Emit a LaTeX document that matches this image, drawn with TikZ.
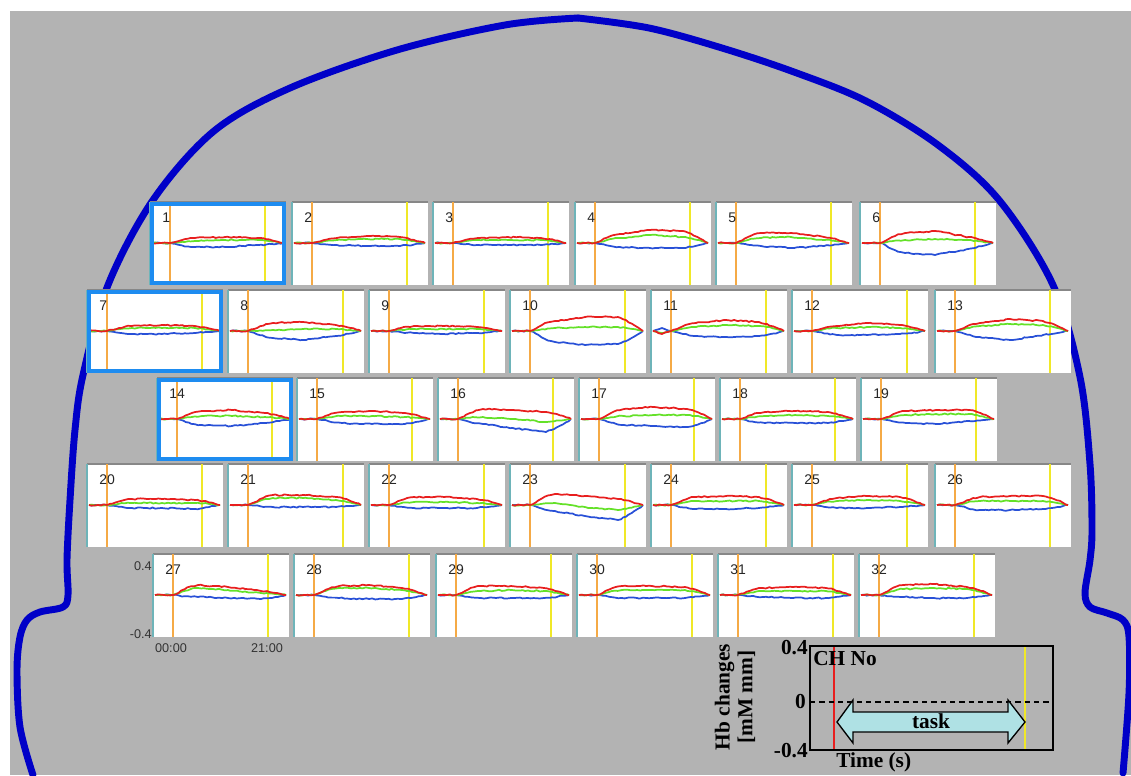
\documentclass[tikz,border=0pt]{standalone}
\usepackage{fontspec}
\setmainfont{Liberation Serif}
\setsansfont{Liberation Sans}
\usetikzlibrary{decorations.pathmorphing}

\definecolor{bggray}{RGB}{179,179,179}
\definecolor{headblue}{RGB}{0,0,200}
\definecolor{selblue}{RGB}{30,140,240}
\definecolor{hbred}{RGB}{232,30,30}
\definecolor{hbgreen}{RGB}{100,225,40}
\definecolor{hbblue}{RGB}{40,80,215}
\definecolor{onsetcol}{RGB}{245,170,70}
\definecolor{endcol}{RGB}{240,232,40}
\definecolor{edgegray}{RGB}{135,135,135}
\definecolor{edgeteal}{RGB}{110,180,185}
\definecolor{arrowcyan}{RGB}{175,225,228}

\tikzset{
  headline/.style={headblue, line width=5.2pt, line cap=round, line join=round},
  chbox/.style={fill=white, minimum width=102pt, minimum height=62.25pt, inner sep=0pt, outer sep=0pt},
  edgeline/.style={line width=1.8pt},
  selbox/.style={selblue, line width=3pt},
  onsetline/.style={onsetcol, line width=1.1pt},
  endline/.style={endcol, line width=1.1pt},
  hbline/.style={line width=1.3pt, line join=round, decorate,
    decoration={random steps, segment length=2.2pt, amplitude=0.5pt}},
  chnum/.style={font=\sffamily\fontsize{10.5}{12}\selectfont, text=black!85, anchor=west, inner sep=0pt},
  axlab/.style={font=\sffamily\fontsize{9.5}{11}\selectfont, text=black!80, inner sep=0pt},
  legtext/.style={font=\bfseries\fontsize{16}{17}\selectfont, inner sep=0pt},
}

% one Hb trace: pre, early, middle, late height above the baseline
\newcommand{\hbtrace}[2]{\hbtraceparts{#1}#2\relax}
\def\hbtraceparts#1#2,#3,#4,#5\relax{%
  \draw[hbline, #1] (2,41) -- (11,{41-(#2)}) -- (20,41) -- (26,{41-0.25*(#3)}) -- (32,{41-0.6*(#3)})
    -- (38,{41-0.87*(#3)}) -- (45,{41-(#3)}) -- (60,{41-0.5*(#3)-0.5*(#4)}) -- (75,{41-(#4)})
    -- (92,{41-0.5*(#4)-0.5*(#5)}) -- (108,{41-(#5)}) -- (116,{41-0.78*(#5)}) -- (122,{41-0.52*(#5)})
    -- (128,{41-0.25*(#5)}) -- (133,41);}

% one channel: x, y, number, red, green, blue
\newcommand{\chpanel}[6]{%
  \begin{scope}[shift={(#1,#2)}]
    \node[chbox, anchor=north west] (p#3) at (0,0) {};
    \draw[edgeline, edgegray] (p#3.north west) -- (p#3.north east);
    \draw[edgeline, edgeteal] (p#3.north west) -- (p#3.south west);
    \draw[onsetline] (20,0) -- (20,83);
    \draw[endline] (115,0) -- (115,83);
    \hbtrace{hbblue}{#6}
    \hbtrace{hbgreen}{#5}
    \hbtrace{hbred}{#4}
    \node[chnum] (ch#3) at (12,16) {#3};
  \end{scope}}

\begin{document}
\begin{tikzpicture}[x=0.75pt, y=-0.75pt]
\pgfmathsetseed{3}
\useasboundingbox (0,0) rectangle (1131,775);
\fill[bggray] (10,11) rectangle (1131,775);

% head
\draw[headline] plot[smooth, tension=0.55] coordinates {(33,775) (20,727) (17,670) (20,637) (27,620) (40,612)
  (63,607) (68,595) (67,560) (70,500) (75,430) (83,375) (108,285) (153,200) (214,131) (290,88) (397,50) (505,25) (578,18)};
\draw[headline] plot[smooth, tension=0.55] coordinates {(578,18) (649,28) (722,48) (794,72) (866,101) (938,145)
  (999,200) (1053,285) (1080,377) (1090,464) (1092,530) (1090,560) (1085,593) (1090,607) (1107,613) (1123,620)
  (1129,637) (1129,693) (1123,773)};

% first row
\chpanel{150}{202}{1}{0,5,6,5}{0,2,3,3}{0,-4,-4,-2}
\chpanel{292}{202}{2}{0,5,7,6}{0,3,4,4}{0,-2,-3,-3}
\chpanel{433}{202}{3}{0,5,6,5}{0,3,3,3}{0,-2,-2,-2}
\chpanel{575}{202}{4}{0,9,13,12}{0,5,8,6}{0,-4,-5,-5}
\chpanel{716}{202}{5}{0,10,10,6}{0,5,6,3}{0,-3,-5,-3}
\chpanel{860}{202}{6}{0,10,12,6}{0,3,4,3}{0,-10,-12,-6}

% second row
\chpanel{87}{290}{7}{0,5,6,5}{0,3,3,3}{0,-3,-3,-2}
\chpanel{228}{290}{8}{0,8,9,6}{0,1,2,2}{0,-7,-9,-5}
\chpanel{369}{290}{9}{0,5,5,4}{0,2,2,2}{0,-2,-3,-2}
\chpanel{510}{290}{10}{0,10,14,14}{0,3,4,4}{0,-11,-14,-13}
\chpanel{651}{290}{11}{-3,8,11,9}{-2,4,6,5}{3,-5,-6,-5}
\chpanel{792}{290}{12}{0,5,8,6}{0,3,4,3}{0,-4,-4,-3}
\chpanel{935}{290}{13}{0,8,12,10}{0,5,7,6}{0,-6,-9,-4}

% third row
\chpanel{157}{378}{14}{0,8,9,6}{0,3,3,2}{0,-6,-7,-4}
\chpanel{297}{378}{15}{0,7,8,6}{0,3,3,2}{0,-4,-5,-5}
\chpanel{438}{378}{16}{0,10,9,7}{0,2,0,-3}{0,-5,-9,-13}
\chpanel{579}{378}{17}{0,10,12,10}{0,3,4,4}{0,-6,-7,-8}
\chpanel{720}{378}{18}{0,7,8,7}{0,3,4,3}{0,-4,-4,-4}
\chpanel{861}{378}{19}{0,8,9,9}{0,4,5,5}{0,-4,-5,-2}

% fourth row
\chpanel{87}{464}{20}{0,6,6,5}{0,2,2,2}{0,-3,-3,-4}
\chpanel{228}{464}{21}{0,10,10,8}{0,7,7,5}{0,-2,-2,-2}
\chpanel{369}{464}{22}{0,8,8,6}{0,3,3,2}{0,-3,-3,-3}
\chpanel{510}{464}{23}{0,11,9,6}{0,2,-2,-5}{0,-6,-11,-15}
\chpanel{651}{464}{24}{0,8,9,8}{0,4,4,4}{0,-4,-4,-3}
\chpanel{792}{464}{25}{0,7,9,8}{0,4,5,4}{0,-3,-3,-2}
\chpanel{935}{464}{26}{0,8,9,9}{0,4,4,4}{0,-5,-5,-4}

% fifth row
\chpanel{153}{554}{27}{0,10,8,4}{0,7,5,2}{0,-2,-3,-4}
\chpanel{294}{554}{28}{0,9,10,7}{0,7,7,5}{0,-3,-4,-4}
\chpanel{436}{554}{29}{0,9,9,7}{0,4,5,4}{0,-3,-3,-3}
\chpanel{577}{554}{30}{0,9,9,8}{0,5,5,5}{0,-3,-3,-3}
\chpanel{718}{554}{31}{0,7,8,7}{0,4,4,4}{0,-2,-3,-3}
\chpanel{859}{554}{32}{0,10,11,8}{0,6,7,6}{0,-2,-3,-3}

% selected channels
\draw[selbox] ([shift={(2,2)}]p1.north west) rectangle ([shift={(-2,-2)}]p1.south east);
\draw[selbox] ([shift={(2,2)}]p7.north west) rectangle ([shift={(-2,-2)}]p7.south east);
\draw[selbox] ([shift={(2,2)}]p14.north west) rectangle ([shift={(-2,-2)}]p14.south east);

% axis of channel 27
\node[axlab, anchor=east] (ytop) at (152,566) {0.4};
\node[axlab, anchor=east] (ybot) at (152,634) {-0.4};
\node[axlab] (tstart) at (171,648) {00:00};
\node[axlab] (tend) at (267,648) {21:00};

% legend
\coordinate (lnw) at (810,646);
\coordinate (lse) at (1053,750);
\fill[bggray] (lnw) rectangle (lse);
\draw[hbred, line width=1.4pt] (834,646) -- (834,750);
\draw[endcol, line width=1.4pt] (1025,646) -- (1025,750);
\draw[black, line width=0.8pt, dash pattern=on 4pt off 3pt] (810,702) -- (1053,702);
\draw[black, line width=1pt] (lnw) rectangle (lse);
\draw[fill=arrowcyan, line width=1pt, line join=miter] (837,722) -- (853,700) -- (853,712) -- (1008,712) -- (1008,700)
  -- (1025,722) -- (1008,743) -- (1008,732) -- (853,732) -- (853,743) -- cycle;
\node[legtext] (task) at (931,721) {task};
\node[legtext, anchor=north west] (chno) at (813,651) {CH No};
\node[legtext, anchor=east] (lmax) at (808,648) {0.4};
\node[legtext, anchor=east] (lzero) at (806,701) {0};
\node[legtext, anchor=east] (lmin) at (808,751) {-0.4};
\node[legtext, anchor=base west] (tlab) at (836,767) {Time (s)};
\node[legtext, rotate=90, align=center] (hblab) at (735,697) {Hb changes\\{}[mM mm]};
\end{tikzpicture}
\end{document}
